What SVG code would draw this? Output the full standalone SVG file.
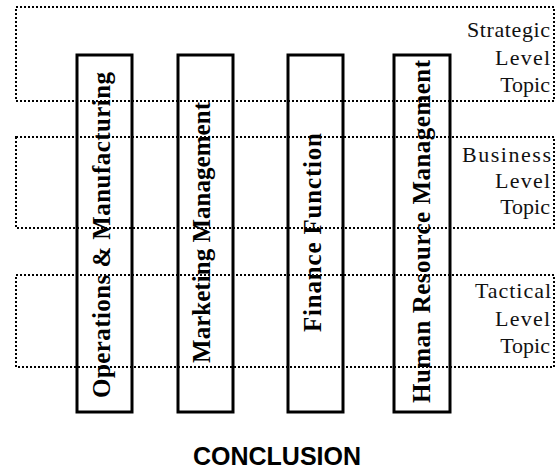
<svg xmlns="http://www.w3.org/2000/svg" width="556" height="469" viewBox="0 0 556 469">
<style>
.lvl{fill:none;stroke:#000;stroke-width:2;stroke-dasharray:2 2}
.col{fill:none;stroke:#000;stroke-width:3}
.ct{font-family:"Liberation Serif",serif;font-weight:bold;font-size:25px;fill:#000;text-anchor:middle}
.lt{font-family:"Liberation Serif",serif;font-size:22px;fill:#111;text-anchor:end}
.ttl{font-family:"Liberation Sans",Arial,sans-serif;font-weight:bold;font-size:25px;fill:#000;text-anchor:middle}
</style>
<rect width="556" height="469" fill="#fff"/>
<g id="levels">
<g id="strategic">
<rect class="lvl" x="16" y="7" width="538" height="94"/>
<text class="lt" x="550" y="37" textLength="83" lengthAdjust="spacing">Strategic</text>
<text class="lt" x="550" y="65" textLength="55" lengthAdjust="spacing">Level</text>
<text class="lt" x="550" y="92">Topic</text>
</g>
<g id="business">
<rect class="lvl" x="16" y="137" width="538" height="91"/>
<text class="lt" x="551" y="162" textLength="89" lengthAdjust="spacing">Business</text>
<text class="lt" x="550" y="188" textLength="55" lengthAdjust="spacing">Level</text>
<text class="lt" x="550" y="214">Topic</text>
</g>
<g id="tactical">
<rect class="lvl" x="16" y="275" width="538" height="92"/>
<text class="lt" x="551" y="298" textLength="76" lengthAdjust="spacing">Tactical</text>
<text class="lt" x="550" y="326" textLength="55" lengthAdjust="spacing">Level</text>
<text class="lt" x="550" y="353">Topic</text>
</g>
</g>
<g id="connectors"></g>
<g id="operations">
<rect class="col" x="77" y="55" width="55" height="357"/>
<text class="ct" transform="translate(110,235) rotate(-90)" textLength="326" lengthAdjust="spacing">Operations &amp; Manufacturing</text>
</g>
<g id="marketing">
<rect class="col" x="178" y="55" width="55" height="357"/>
<text class="ct" transform="translate(210,232.5) rotate(-90)" textLength="261" lengthAdjust="spacing">Marketing Management</text>
</g>
<g id="finance">
<rect class="col" x="288" y="55" width="55" height="357"/>
<text class="ct" transform="translate(321,232.5) rotate(-90)" textLength="199" lengthAdjust="spacing">Finance Function</text>
</g>
<g id="hr">
<rect class="col" x="394" y="55" width="56" height="357"/>
<text class="ct" transform="translate(430,231.5) rotate(-90)" textLength="343" lengthAdjust="spacing">Human Resource Management</text>
</g>
<g id="conclusion">
<text class="ttl" x="277" y="465">CONCLUSION</text>
</g>
</svg>
